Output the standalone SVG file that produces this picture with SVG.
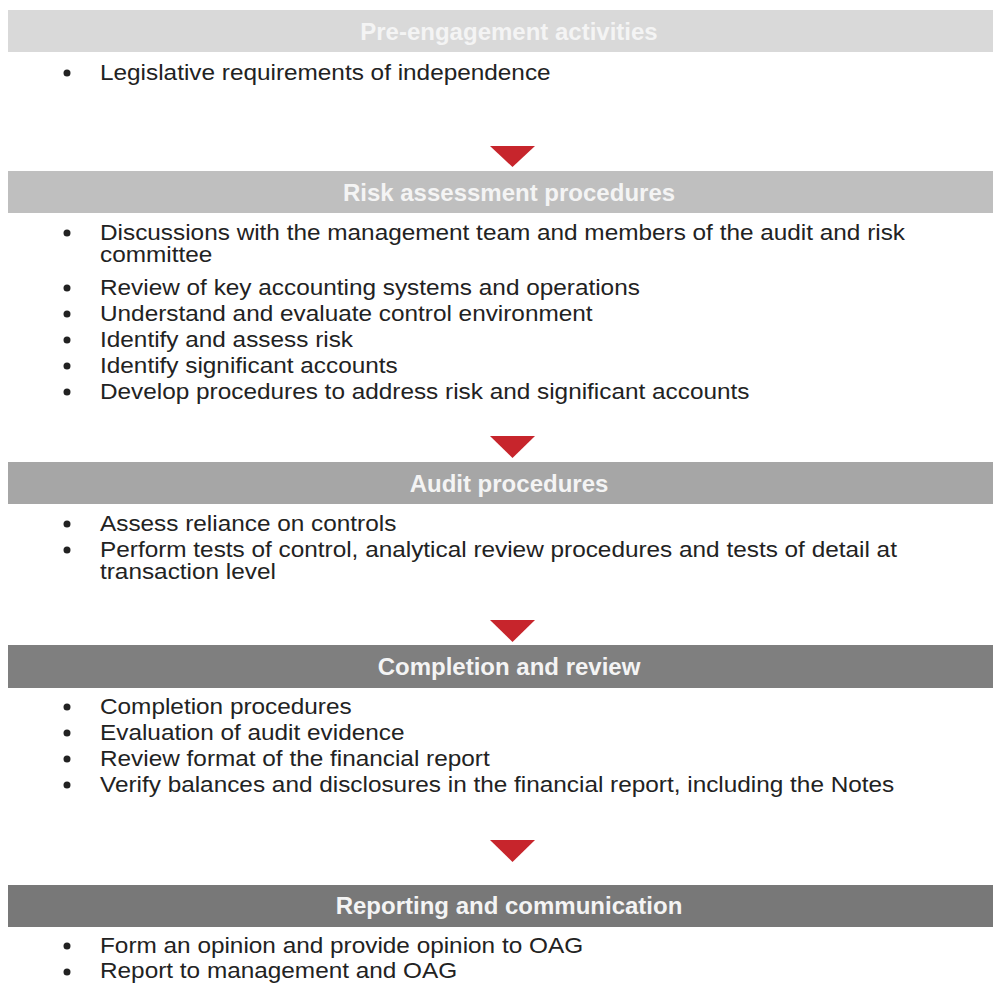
<svg xmlns="http://www.w3.org/2000/svg" width="993" height="983" viewBox="0 0 993 983">
<defs>
<style>
.hd{font-family:"Liberation Sans",Arial,sans-serif;font-weight:bold;font-size:24px;fill:#f4f4f4;text-anchor:middle}
.tx{font-family:"Liberation Sans",Arial,sans-serif;font-size:22.5px;fill:#222}
.bl{fill:#222}
.ar{fill:#c7252c}
</style>
</defs>
<rect width="993" height="983" fill="#fff"/>
<g id="pre-engagement">
<rect x="8" y="10" width="985" height="42" fill="#d9d9d9"/>
<text class="hd" x="509" y="40">Pre-engagement activities</text>
<circle class="bl" cx="67" cy="73" r="3.5"/>
<g transform="translate(100,0) scale(1.082,1)">
<text class="tx" x="0" y="80">Legislative requirements of independence</text>
</g>
</g>
<g id="risk-assessment">
<rect x="8" y="171" width="985" height="42" fill="#bfbfbf"/>
<text class="hd" x="509" y="201">Risk assessment procedures</text>
<circle class="bl" cx="67" cy="233" r="3.5"/>
<circle class="bl" cx="67" cy="288" r="3.5"/>
<circle class="bl" cx="67" cy="314" r="3.5"/>
<circle class="bl" cx="67" cy="340" r="3.5"/>
<circle class="bl" cx="67" cy="366" r="3.5"/>
<circle class="bl" cx="67" cy="392" r="3.5"/>
<g transform="translate(100,0) scale(1.082,1)">
<text class="tx" x="0" y="240">Discussions with the management team and members of the audit and risk</text>
<text class="tx" x="0" y="262">committee</text>
<text class="tx" x="0" y="295">Review of key accounting systems and operations</text>
<text class="tx" x="0" y="321">Understand and evaluate control environment</text>
<text class="tx" x="0" y="347">Identify and assess risk</text>
<text class="tx" x="0" y="373">Identify significant accounts</text>
<text class="tx" x="0" y="399">Develop procedures to address risk and significant accounts</text>
</g>
</g>
<g id="audit-procedures">
<rect x="8" y="462" width="985" height="42" fill="#a6a6a6"/>
<text class="hd" x="509" y="492">Audit procedures</text>
<circle class="bl" cx="67" cy="524" r="3.5"/>
<circle class="bl" cx="67" cy="550" r="3.5"/>
<g transform="translate(100,0) scale(1.082,1)">
<text class="tx" x="0" y="531">Assess reliance on controls</text>
<text class="tx" x="0" y="557">Perform tests of control, analytical review procedures and tests of detail at</text>
<text class="tx" x="0" y="579">transaction level</text>
</g>
</g>
<g id="completion-review">
<rect x="8" y="645" width="985" height="43" fill="#7f7f7f"/>
<text class="hd" x="509" y="675">Completion and review</text>
<circle class="bl" cx="67" cy="707" r="3.5"/>
<circle class="bl" cx="67" cy="733" r="3.5"/>
<circle class="bl" cx="67" cy="759" r="3.5"/>
<circle class="bl" cx="67" cy="785" r="3.5"/>
<g transform="translate(100,0) scale(1.082,1)">
<text class="tx" x="0" y="714">Completion procedures</text>
<text class="tx" x="0" y="740">Evaluation of audit evidence</text>
<text class="tx" x="0" y="766">Review format of the financial report</text>
<text class="tx" x="0" y="792">Verify balances and disclosures in the financial report, including the Notes</text>
</g>
</g>
<g id="reporting-communication">
<rect x="8" y="885" width="985" height="42" fill="#787878"/>
<text class="hd" x="509" y="914">Reporting and communication</text>
<circle class="bl" cx="67" cy="946" r="3.5"/>
<circle class="bl" cx="67" cy="972" r="3.5"/>
<g transform="translate(100,0) scale(1.082,1)">
<text class="tx" x="0" y="953">Form an opinion and provide opinion to OAG</text>
<text class="tx" x="0" y="978">Report to management and OAG</text>
</g>
</g>
<g id="connectors">
<polygon class="ar" points="490,146 535,146 512.5,167"/>
<polygon class="ar" points="490,436 535,436 512.5,458"/>
<polygon class="ar" points="490,620 535,620 512.5,642"/>
<polygon class="ar" points="490,840 535,840 512.5,862"/>
</g>
</svg>
